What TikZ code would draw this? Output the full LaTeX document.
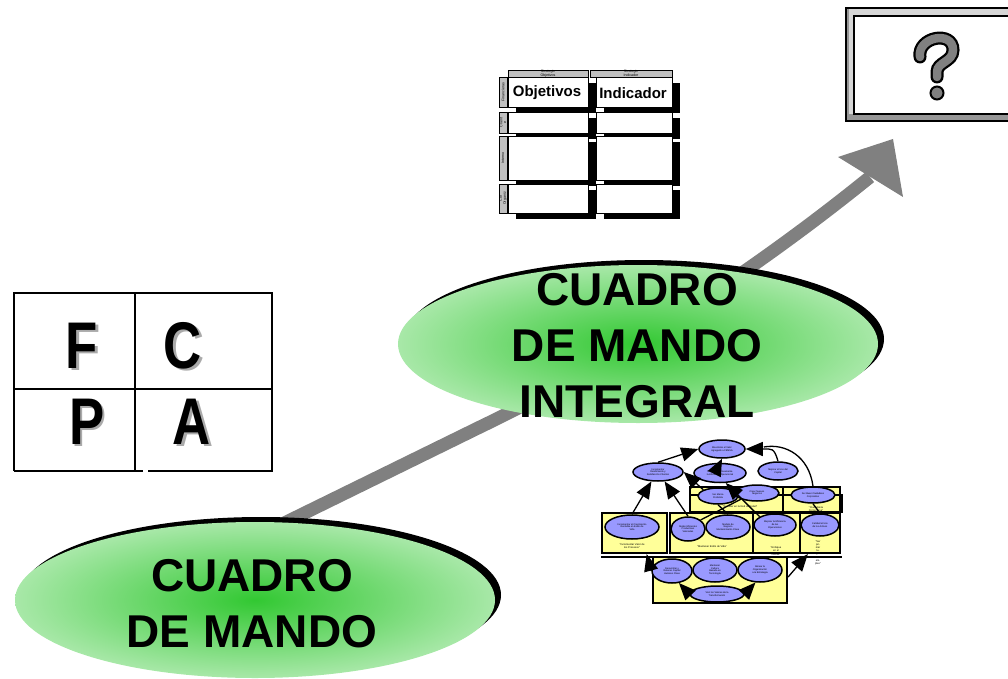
\documentclass[tikz,border=0pt]{standalone}
\usepackage{fontspec}
\setmainfont{Liberation Sans}
\usetikzlibrary{arrows.meta,shapes.geometric,shadows,calc}
\definecolor{arrowgray}{RGB}{128,128,128}
\definecolor{greencore}{RGB}{50,200,50}
\definecolor{greenrim}{RGB}{168,232,168}
\definecolor{mapyellow}{RGB}{255,255,153}
\definecolor{mapblue}{RGB}{153,153,255}
\definecolor{tabgray}{RGB}{192,192,192}
\definecolor{bevellight}{RGB}{214,214,214}
\definecolor{beveldark}{RGB}{150,150,150}
\definecolor{glyphgray}{RGB}{170,170,170}

% a bold letter with a soft gray drop copy behind it
\newcommand{\shadedglyph}[1]{%
  \makebox[0pt][l]{\hspace{2.5pt}\raisebox{-2.5pt}{\textcolor{glyphgray}{\scalebox{0.8}[1]{#1}}}}%
  \scalebox{0.8}[1]{#1}}

\begin{document}
\begin{tikzpicture}[x=1pt,y=-1pt,
  bigtxt/.style={font=\fontsize{46}{56}\selectfont\bfseries, align=center, inner sep=0pt},
  blob/.style={ellipse, inner sep=0pt, shade, inner color=greencore, outer color=greenrim,
    drop shadow={shadow xshift=6pt, shadow yshift=5pt, fill=black, opacity=1}},
  glyph/.style={font=\fontsize{66}{66}\selectfont\bfseries, inner sep=0pt},
  cellshadow/.style={fill=black},
  cellbox/.style={fill=white, draw=black, line width=0.8pt},
  sidetab/.style={fill=tabgray, draw=black, line width=0.8pt},
  microtxt/.style={font=\fontsize{3.6}{3.8}\selectfont, inner sep=0pt, align=center},
  tabletxt/.style={font=\fontsize{15}{15}\selectfont\bfseries, inner sep=0pt},
  goal/.style={ellipse, draw=black, line width=1.5pt, fill=mapblue, inner sep=0pt,
    font=\fontsize{2.4}{2.8}\selectfont, align=center},
  boxlabel/.style={font=\fontsize{2.6}{3.2}\selectfont, inner sep=0pt, align=center},
  ybox/.style={rectangle, draw=black, line width=2.2pt, fill=mapyellow, inner sep=0pt},
  maparrow/.style={draw=black, line width=1.3pt, -{Triangle[length=17pt, width=14pt]}},
  maplink/.style={draw=black, line width=1.3pt},
  shaft/.style={draw=arrowgray, line width=13pt},
]
\useasboundingbox (0,0) rectangle (1008,679);

% ---------- big gray growth arrow ----------
\coordinate (foot) at (270,530);
\coordinate (bend) at (480,427);
\coordinate (headbase) at (870,177);
\coordinate (headtip) at (893,139);
\coordinate (headL) at (838,157);
\coordinate (headR) at (903,197);
\draw[shaft] (foot) -- (bend) .. controls (640,350) and (780,250) .. (headbase);
\fill[arrowgray] (headL) -- (headtip) -- (headR) -- cycle;

% ---------- the two green ellipses ----------
\node[blob, minimum width=480pt, minimum height=158pt] (cmi) at (638,344) {};
\node[bigtxt] (cmitext) at (637,346) {CUADRO\\DE MANDO\\INTEGRAL};

\node[blob, minimum width=480pt, minimum height=156pt] (cm) at (255,600) {};
\node[bigtxt] (cmtext) at (252,604) {CUADRO\\DE MANDO};

% ---------- F C / P A grid ----------
\coordinate (gTL) at (14,293);
\coordinate (gTR) at (272,293);
\coordinate (gBR) at (272,471);
\coordinate (gBL) at (14,471);
\draw[line width=2pt] (gBL) -- (gTL) -- (gTR) -- (gBR) -- (148,471);
\draw[line width=2pt] (gBL) -- (143,471);
\draw[line width=2pt] (135,293) -- (135,471);
\draw[line width=2pt] (14,389) -- (272,389);
\node[glyph] (lF) at (82,347) {\shadedglyph{F}};
\node[glyph] (lC) at (183,347) {\shadedglyph{C}};
\node[glyph] (lP) at (87,423) {\shadedglyph{P}};
\node[glyph] (lA) at (192,423) {\shadedglyph{A}};

% ---------- scorecard table ----------
\draw[sidetab] (508,70) rectangle (588,77);
\draw[sidetab] (590,70) rectangle (672,77);
\node[microtxt] (h1) at (548,73.5) {Strategic\\Objetivos};
\node[microtxt] (h2) at (631,73.5) {Strategic\\Indicador};
\foreach \ya/\yb/\lab in {77/107/Financieras, 112/133/{Client\\e}, 136/180/Interno, 184/213/{Cto\\Organiz}} {
  \draw[sidetab] (499,\ya) rectangle (507,\yb);
  \node[microtxt, rotate=90] at (503,{(\ya+\yb)/2}) {\lab};
  \foreach \xa/\xb in {508/588, 596/672} {
    \fill[cellshadow] (\xa+8,\ya+6) rectangle (\xb+8,\yb+6);
    \draw[cellbox] (\xa,\ya) rectangle (\xb,\yb);
  }
}
\node[tabletxt] (obj) at (547,93) {Objetivos};
\node[tabletxt] (ind) at (633,93) {Indicador};

% ---------- question box ----------
\fill[bevellight] (846,8) rectangle (1010,121);
\fill[beveldark] (846,114) rectangle (1010,121);
\fill[beveldark] (846,8) rectangle (849,121);
\draw[line width=1.5pt] (1010,8) -- (846,8) -- (846,121) -- (1010,121);
\draw[fill=white, line width=2pt] (854,16) rectangle (1012,114);
\draw[line width=13pt, line cap=round] (920,57) .. controls (917,37) and (953,30) .. (953,50)
  .. controls (953,62) and (937,62) .. (937,72) -- (937,77);
\draw[gray, line width=8.5pt, line cap=round] (920,57) .. controls (917,37) and (953,30) .. (953,50)
  .. controls (953,62) and (937,62) .. (937,72) -- (937,77);
\draw[fill=gray, line width=2pt] (937,93) circle (6.5);

% ---------- strategy map ----------
\node[ybox, minimum width=97pt, minimum height=25pt] (boxE) at (738.5,499.5) {};
\node[ybox, minimum width=57pt, minimum height=25pt] (boxF) at (811.5,499.5) {};
\node[draw=black, line width=1.5pt, minimum width=152pt, minimum height=17pt, inner sep=0pt] (frameEF) at (766,503.5) {};
\node[ybox, minimum width=65pt, minimum height=40pt] (boxA) at (634.5,533) {};
\node[ybox, minimum width=83pt, minimum height=40pt] (boxB) at (711.5,533) {};
\node[ybox, minimum width=47pt, minimum height=40pt] (boxC) at (776.5,533) {};
\node[ybox, minimum width=40pt, minimum height=40pt] (boxD) at (820,533) {};
\fill[white] (600,554) rectangle (843,555.5);
\node[ybox, minimum width=134pt, minimum height=46pt] (boxG) at (720,580) {};
\draw[line width=2pt] (601,557) -- (842,557);

\node[boxlabel] (labE) at (740,507) {\textquotedblleft Ser líder en la Red de Retail\textquotedblright};
\node[boxlabel] (labF) at (816,509) {\textquotedblleft Ciudadanía\\Corporativa\textquotedblright};
\node[boxlabel] (labA) at (632,546) {\textquotedblleft Incrementar Valor de\\los Procesos\textquotedblright};
\node[boxlabel] (labB) at (712,547) {\textquotedblleft Mantener  Estilo de Vida\textquotedblright};
\node[boxlabel] (labC) at (776,551) {\textquotedblleft Enfoque\\en el\\Cliente\textquotedblright};
\node[boxlabel, anchor=north] (labD) at (818,540) {\textquotedblleft Ser\\pri-\\mer\\lu-\\gar\\de\\em-\\pleo\textquotedblright};

\node[goal, minimum width=46pt, minimum height=18pt] (m1) at (722,449) {Maximizar el Valor\\Agregado a FEMSA};
\node[goal, minimum width=50pt, minimum height=18pt] (m2) at (658,472) {Incrementar\\Rendimiento y\\Satisfacción Clientes};
\node[goal, minimum width=52pt, minimum height=19pt] (m3) at (720,473) {Mejorar Continuamente\\la Eficiencia Operacional};
\node[goal, minimum width=40pt, minimum height=18pt] (m4) at (778,471) {Mejorar el Uso del\\Capital};
\node[goal, minimum width=40pt, minimum height=16pt] (e1) at (718,496) {Ser Marca\\Preferida};
\node[goal, minimum width=44pt, minimum height=16pt] (e2) at (757,493) {Crear Nuevos\\Negocios};
\node[goal, minimum width=44pt, minimum height=16pt] (f1) at (813,495) {Ser Buen Ciudadano\\Corporativo};
\node[goal, minimum width=54pt, minimum height=24pt] (a1) at (632,527) {Incrementar el Crecimiento\\Rentable en Estilo de\\Vida};
\node[goal, minimum width=34pt, minimum height=24pt] (b1) at (688,529) {Redes Eficientes\\Productivas\\Valoradas};
\node[goal, minimum width=44pt, minimum height=24pt] (b2) at (728,527) {Modelo de\\Negocio\\Mantenimiento Clase};
\node[goal, minimum width=42pt, minimum height=22pt] (c1) at (775,525) {Mejorar la Eficiencia\\de las\\Operaciones};
\node[goal, minimum width=38pt, minimum height=22pt] (d1) at (820,525) {Calidad el Uso\\de los Activos};
\node[goal, minimum width=40pt, minimum height=24pt] (g1) at (672,571) {Desarrollar y\\Retener Capital\\Humano Clase};
\node[goal, minimum width=44pt, minimum height=24pt] (g2) at (715,570) {Mantener\\Cultura\\Basada en\\Tecnología};
\node[goal, minimum width=44pt, minimum height=24pt] (g3) at (760,570) {Alinear la\\Organización\\a la Estrategia};
\node[goal, minimum width=54pt, minimum height=16pt] (g4) at (717,594) {Vivir los Valores de la\\Transformación};

\draw[maparrow] (a1.north) -- (m2.235);
\draw[maparrow] (b1.north) -- (m2.305);
\draw[maparrow] (m2.north) -- (m1.west);
\draw[maparrow] (m3.north) -- (m1.south);
\draw[maparrow] (e1.north west) -- (m2.east);
\draw[maparrow] (c1.north west) -- (m3.300);
\draw[maparrow] (m4.north) .. controls ($(m4.north)+(-4,-14)$) and ($(m1.east)+(26,0)$) .. (m1.east);
\draw[maplink] (f1.north) .. controls ($(f1.north)+(-4,-30)$) and ($(m1.east)+(40,-6)$) .. ($(m1.east)+(18,-2)$);
\draw[maplink] (b2.north) -- (e1.south);
\draw[maplink] (b1.north east) -- (e2.south west);
\draw[maplink] (d1.north) -- (f1.south);
\draw[maparrow] (g1.west) -- (boxA.-60);
\draw[maparrow] (g4.west) -- (g1.-60);
\draw[maparrow] (g4.east) -- (g3.-110);
\draw[maparrow] ($(boxG.east)+(0,-3)$) -- (boxD.-120);
\end{tikzpicture}
\end{document}
